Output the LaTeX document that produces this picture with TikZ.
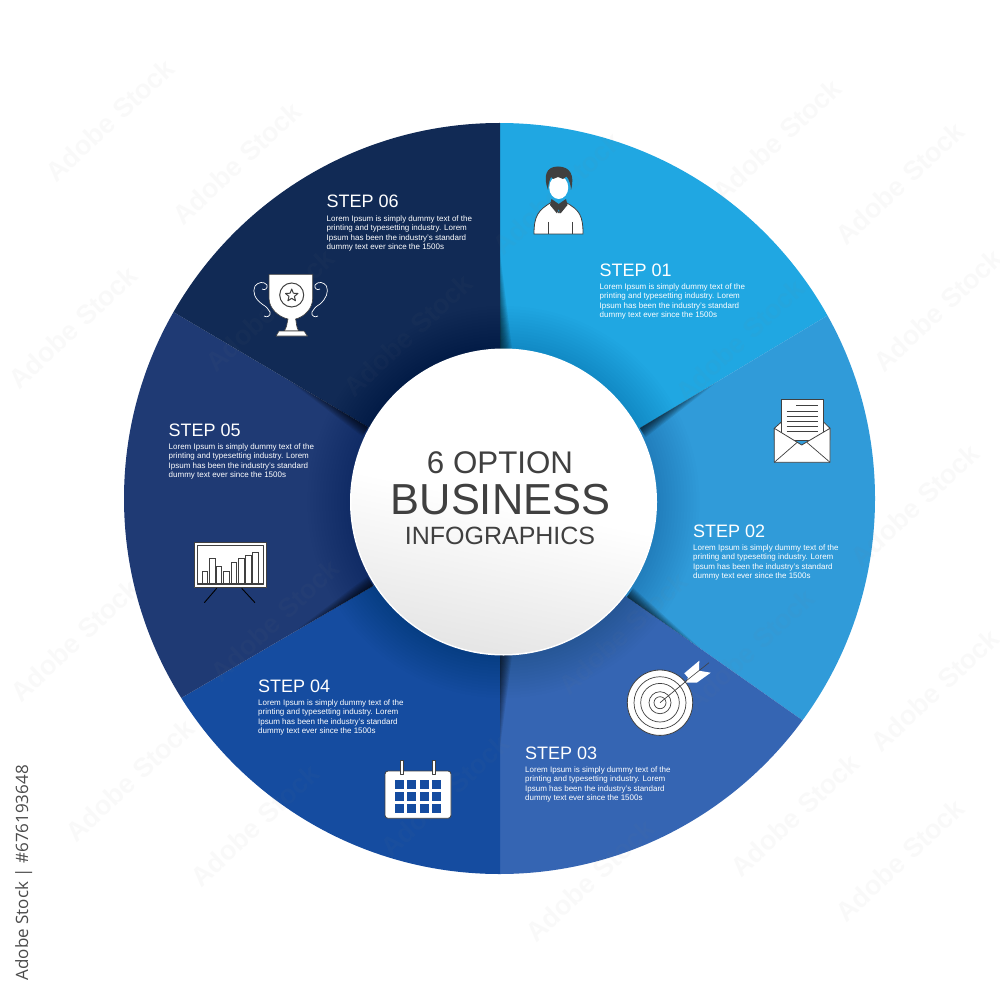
\documentclass[tikz,border=0pt]{standalone}
\usepackage{fontspec}
\setmainfont{Liberation Sans}
\newfontfamily\stripfont{Open Sans}
\usetikzlibrary{calc}
\definecolor{wA}{HTML}{20A7E2}
\definecolor{wB}{HTML}{309BD9}
\definecolor{wC}{HTML}{3565B3}
\definecolor{wD}{HTML}{154CA0}
\definecolor{wE}{HTML}{1F3A74}
\definecolor{wF}{HTML}{112A55}
\definecolor{ink}{HTML}{404040}
\tikzset{
  iconline/.style={draw=ink,line width=0.8pt,fill=white,line join=round},
  iconthin/.style={draw=ink,line width=0.7pt},
  txt/.style={inner sep=0pt,anchor=base west,text=white},
  title/.style={inner sep=0pt,anchor=base,text=ink}
}
\newcommand{\stepblock}[3]{%
  \node[txt,font=\fontsize{18}{18}\selectfont] (s#3t) at (#1,#2) {STEP #3};
  \node[txt,font=\fontsize{8}{9}\selectfont] (s#3a) at (#1,#2+13.2) {Lorem Ipsum is simply dummy text of the};
  \node[txt,font=\fontsize{8}{9}\selectfont] (s#3b) at (#1,#2+22.8) {printing and typesetting industry. Lorem};
  \node[txt,font=\fontsize{8}{9}\selectfont] (s#3c) at (#1,#2+32.3) {Ipsum has been the industry's standard};
  \node[txt,font=\fontsize{8}{9}\selectfont] (s#3d) at (#1,#2+41.8) {dummy text ever since the 1500s};
}
\newcommand{\castshadow}[3]{%
  \foreach \k in {1,...,10}{
    \fill[black,opacity=.085] (#1) -- ($(#1)!{0.08+0.034*\k}!(#2)$) -- ($(#1)!{#3*\k/10*1pt}!90:(#2)$) -- cycle;
  }
}
\begin{document}
\begin{tikzpicture}[x=1pt,y=-1pt]
\useasboundingbox (0,0) rectangle (1000,1000);
\fill[white] (0,0) rectangle (1000,1000);
% boundary points
\coordinate (c) at (500,499);
\coordinate (aA) at (500,349); \coordinate (oA) at (500,123);
\coordinate (aB) at (640,428); \coordinate (oB) at (825,317);
\coordinate (aC) at (627,597); \coordinate (oC) at (802,720);
\coordinate (aD) at (500,655); \coordinate (oD) at (500,874);
\coordinate (aE) at (373,586); \coordinate (oE) at (183,697);
\coordinate (aF) at (368,427); \coordinate (oF) at (175,313);
\begin{scope}
  \clip (499.5,498.5) circle[radius=375.5];
  \fill[wA] (aA) -- ($(aA)!1.6!(oA)$) -- ($(aB)!1.6!(oB)$) -- (aB) -- (c) -- cycle;
  \fill[wB] (aB) -- ($(aB)!1.6!(oB)$) -- ($(aC)!1.6!(oC)$) -- (aC) -- (c) -- cycle;
  \fill[wC] (aC) -- ($(aC)!1.6!(oC)$) -- ($(aD)!1.6!(oD)$) -- (aD) -- (c) -- cycle;
  \fill[wD] (aD) -- ($(aD)!1.6!(oD)$) -- ($(aE)!1.6!(oE)$) -- (aE) -- (c) -- cycle;
  \fill[wE] (aE) -- ($(aE)!1.6!(oE)$) -- ($(aF)!1.6!(oF)$) -- (aF) -- (c) -- cycle;
  \fill[wF] (aF) -- ($(aF)!1.6!(oF)$) -- ($(aA)!1.6!(oA)$) -- (aA) -- (c) -- cycle;
  \foreach \r in {157,160,...,196}{\fill[black,opacity=.006] (503.5,502) circle[radius=\r];}
  \castshadow{aA}{oA}{-12}
  \castshadow{aB}{oB}{-11}
  \castshadow{aC}{oC}{11}
  \castshadow{aD}{oD}{12}
  \castshadow{aE}{oE}{-11}
  \castshadow{aF}{oF}{11}
\end{scope}
% centre disc
\fill[white] (503.5,502) circle[radius=153.5];
\shade[top color=white,bottom color=black!10,middle color=white,shading angle=-12] (503.5,502) circle[radius=152];
% faint stock marks
\foreach \mx/\my in {110/120,237/163,73/327,777/140,900/183,938/310,915/505,935/690,900/860,795/815,130/780,75/640,255/825,
    557/193,740/340,623/633,750/650,408/335,270/310,275/620,445/795,590/880}{
  \node[inner sep=0pt,rotate=43,text=black!50,text opacity=.045,font=\fontsize{27}{27}\selectfont\bfseries] at (\mx,\my) {Adobe Stock};
}
\node[title,font=\fontsize{31.3}{32}\selectfont] (lineA) at (500,473) {6 OPTION};
\node[title,font=\fontsize{43.4}{44}\selectfont] (lineB) at (500.5,514) {BUSINESS};
\node[title,font=\fontsize{25}{26}\selectfont] (lineC) at (500,544) {INFOGRAPHICS};
% texts
\stepblock{599.5}{276}{01}
\stepblock{693}{537}{02}
\stepblock{525}{759}{03}
\stepblock{258}{692}{04}
\stepblock{168.5}{436}{05}
\stepblock{326.5}{208}{06}
% person
\draw[iconline] (534,234) .. controls (534,216) and (538,210) .. (552,202) -- (559,213) -- (565,202) .. controls (580,210) and (583,216) .. (583,234) -- cycle;
\draw[iconthin] (548.5,222) -- (548.5,234) (572.5,222) -- (572.5,234);
\fill[ink] (551.5,199) -- (550,205) -- (557,213.5) -- (558.7,209) -- (560.5,213.5) -- (567.5,205) -- (566,199) -- (558.7,204) -- cycle;
\fill[white] (558.7,187.5) ellipse[x radius=9.5,y radius=11.5];
\fill[ink] (548,190) .. controls (543,176) and (546,166.5) .. (558,166.5) .. controls (570,166.5) and (575,175) .. (571,190) .. controls (571,185) and (569,179) .. (566.5,176.5) -- (563,179) -- (558,177) -- (553,179) -- (551,177) .. controls (549,181) and (548,186) .. (548,190) -- cycle;
% envelope
\draw[iconline] (774.3,428.3) -- (781.7,421.7) -- (823.3,421.7) -- (830,428.3) -- (830,440) -- (774.3,440) -- cycle;
\draw[iconline] (781.7,440) -- (781.7,399.3) -- (823.3,399.3) -- (823.3,440) -- cycle;
\draw[iconthin] (796,405.7) -- (818.3,405.7) (786.7,411) -- (818.3,411) (786.7,416) -- (818.3,416) (786.7,421) -- (818.3,421) (786.7,426) -- (818.3,426) (786.7,431) -- (818.3,431);
\draw[iconline] (774.3,428.3) -- (801.7,445) -- (830,428.3) -- (830,462.3) -- (774.3,462.3) -- cycle;
\draw[iconthin] (774.3,462.3) -- (797,442.5) (830,462.3) -- (807,442.5);
% target
\draw[iconline] (660,702.7) circle[radius=32.7];
\draw[iconthin] (660,702.7) circle[radius=26] (660,702.7) circle[radius=19.3] (660,702.7) circle[radius=11] (660,702.7) circle[radius=6];
\draw[iconthin] (660,702.7) -- (690,678);
\fill[white] (684.3,673.3) -- (699.3,660.7) -- (699,670.7) -- (710.7,672.7) -- (696.7,682.7) -- (686,682.7) -- (688,677.5) -- cycle;
\draw[iconthin,line width=.6pt] (686,681) -- (709,662.7);
% calendar
\draw[iconline,rounded corners=3pt] (385,771) rectangle (451,818.3);
\foreach \cx in {395,407.3,419.7,432}{
  \foreach \cy in {780.3,792.3,804.3}{
    \fill[wD] (\cx,\cy) rectangle ++(9,8.7);
  }
}
\draw[iconline,line width=.6pt] (400.2,760) rectangle (403.2,774);
\draw[iconline,line width=.6pt] (432.2,760) rectangle (435.2,774);
% chart
\draw[iconline] (194,542.7) rectangle (266.7,587.7);
\draw[iconline] (197.3,545.7) rectangle (263.7,584);
\draw[black,line width=.9pt] (216.7,588.3) -- (204.3,602.7) (241.7,588.3) -- (255,602.7);
\draw[iconthin] (197.3,583.3) -- (263.7,583.3);
\foreach \ba/\bb/\bt in {202/207.5/571.7, 209/215/558.3, 216.3/221.7/566, 223.3/229/571.7, 231/236.7/562, 238/244/558.3, 245.3/251/555.3, 252.3/258/552.3}{
  \draw[iconthin,line width=.8pt] (\ba,583.3) rectangle (\bb,\bt);
}
% trophy
\draw[white,line width=.7pt] (262,289) .. controls (265,291) and (268,288) .. (267,285) .. controls (264,281) and (258,282) .. (255,286) .. controls (252,292) and (255,299) .. (262,304) .. controls (267,307) and (268,309) .. (270,312) .. controls (271,316) and (267,318) .. (264,316);
\draw[white,line width=.7pt] (320,289) .. controls (317,291) and (314,288) .. (315,285) .. controls (318,281) and (324,282) .. (326.5,286) .. controls (329,292) and (326,299) .. (320,304) .. controls (315,307) and (314,309) .. (312,312) .. controls (311,316) and (315,318) .. (318,316);
\draw[iconline,line width=.6pt] (269,274.3) -- (312.7,274.3) -- (312.7,298) .. controls (312.7,309) and (304,317) .. (295.5,319) -- (296,321) .. controls (296.5,325) and (297,329) .. (299,331) -- (284,331) .. controls (286,329) and (287,325) .. (287.5,321) -- (288,319) .. controls (279,317) and (269,309) .. (269,298) -- cycle;
\draw[iconline,line width=.6pt] (276,336) -- (279,331) -- (304,331) -- (307.5,336) -- cycle;
\draw[iconthin,line width=1pt,fill=white] (291.7,295) circle[radius=12];
\draw[iconthin,line width=1pt,line join=round] (291.7,289) -- (293.3,293.2) -- (297.9,293.5) -- (294.4,296.4) -- (295.5,300.8) -- (291.7,298.3) -- (287.9,300.8) -- (289,296.4) -- (285.5,293.5) -- (290.1,293.2) -- cycle;
% id strip
\node[inner sep=0pt,anchor=base east,rotate=90,text=black!70,font=\stripfont\fontsize{17}{17}\selectfont] (idstrip) at (28,765) {Adobe Stock | \#676193648};
\end{tikzpicture}
\end{document}
